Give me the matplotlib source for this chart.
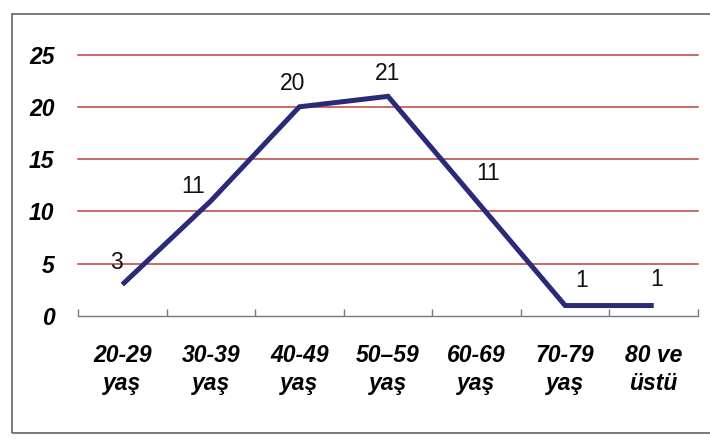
import matplotlib
matplotlib.use("Agg")
import matplotlib.pyplot as plt
from matplotlib.patches import Rectangle
from matplotlib.ticker import FixedLocator, NullFormatter

# Age groups and number of cases per group
categories = ["20-29\nyaş", "30-39\nyaş", "40-49\nyaş", "50\u201359\nyaş",
              "60-69\nyaş", "70-79\nyaş", "80 ve\nüstü"]
counts = [3, 11, 20, 21, 11, 1, 1]
y_ticks = [0, 5, 10, 15, 20, 25]

# Placement of each value label relative to its point (points: dx, dy)
label_offsets = [(-4, 11), (-13, 6), (-5, 12), (0, 12), (8, 15), (12, 13), (2, 14)]

W, H = 710, 448
fig = plt.figure(figsize=(W / 100, H / 100), dpi=100)
fig.patch.set_facecolor("white")

# Outer chart border
fig.patches.append(Rectangle((12 / W, 1 - 433 / H), 1.2, (433 - 14) / H,
                             transform=fig.transFigure, fill=False,
                             edgecolor="#555555", linewidth=1.1))

ax = fig.add_axes([78 / W, 1 - 316 / H, 620 / W, (316 - 54.5) / H])
ax.set_xlim(-0.5, len(categories) - 0.5)
ax.set_ylim(0, 25)

x = list(range(len(categories)))
ax.plot(x, counts, color="#2a2a78", linewidth=3.6, solid_joinstyle="miter",
        solid_capstyle="butt", zorder=3)

for xi, v, (dx, dy) in zip(x, counts, label_offsets):
    ax.annotate(str(v), (xi, v), xytext=(dx, dy), textcoords="offset points",
                ha="center", va="baseline", fontsize=16.5,
                family="Liberation Sans", color="#111111", zorder=4)

# Horizontal gridlines
for yv in y_ticks[1:]:
    ax.axhline(yv, color="#b9413f", linewidth=1.1, zorder=1, clip_on=False)

for side in ("left", "right", "top"):
    ax.spines[side].set_visible(False)
ax.spines["bottom"].set_color("#7a7a7a")
ax.spines["bottom"].set_linewidth(1.0)

# Category boundaries as tick marks, labels at the centres
ax.xaxis.set_major_locator(FixedLocator([i - 0.5 for i in range(len(categories) + 1)]))
ax.xaxis.set_major_formatter(NullFormatter())
ax.xaxis.set_minor_locator(FixedLocator(x))
ax.set_xticklabels(categories, minor=True)
ax.tick_params(axis="x", which="major", direction="in", length=5, color="#7a7a7a", width=1.0)
ax.tick_params(axis="x", which="minor", length=0, pad=20)
for lab in ax.get_xticklabels(minor=True):
    lab.set_fontfamily("Liberation Sans")
    lab.set_fontweight("bold")
    lab.set_fontstyle("italic")
    lab.set_fontsize(16.5)
    lab.set_linespacing(1.3)
    lab.set_color("#000000")

ax.set_yticks(y_ticks)
ax.set_yticklabels([str(t) for t in y_ticks])
ax.tick_params(axis="y", length=0, pad=17)
for lab in ax.get_yticklabels():
    lab.set_fontfamily("Liberation Sans")
    lab.set_fontweight("bold")
    lab.set_fontstyle("italic")
    lab.set_fontsize(16.5)
    lab.set_color("#000000")

fig.savefig("out.png", dpi=100, facecolor="white")
